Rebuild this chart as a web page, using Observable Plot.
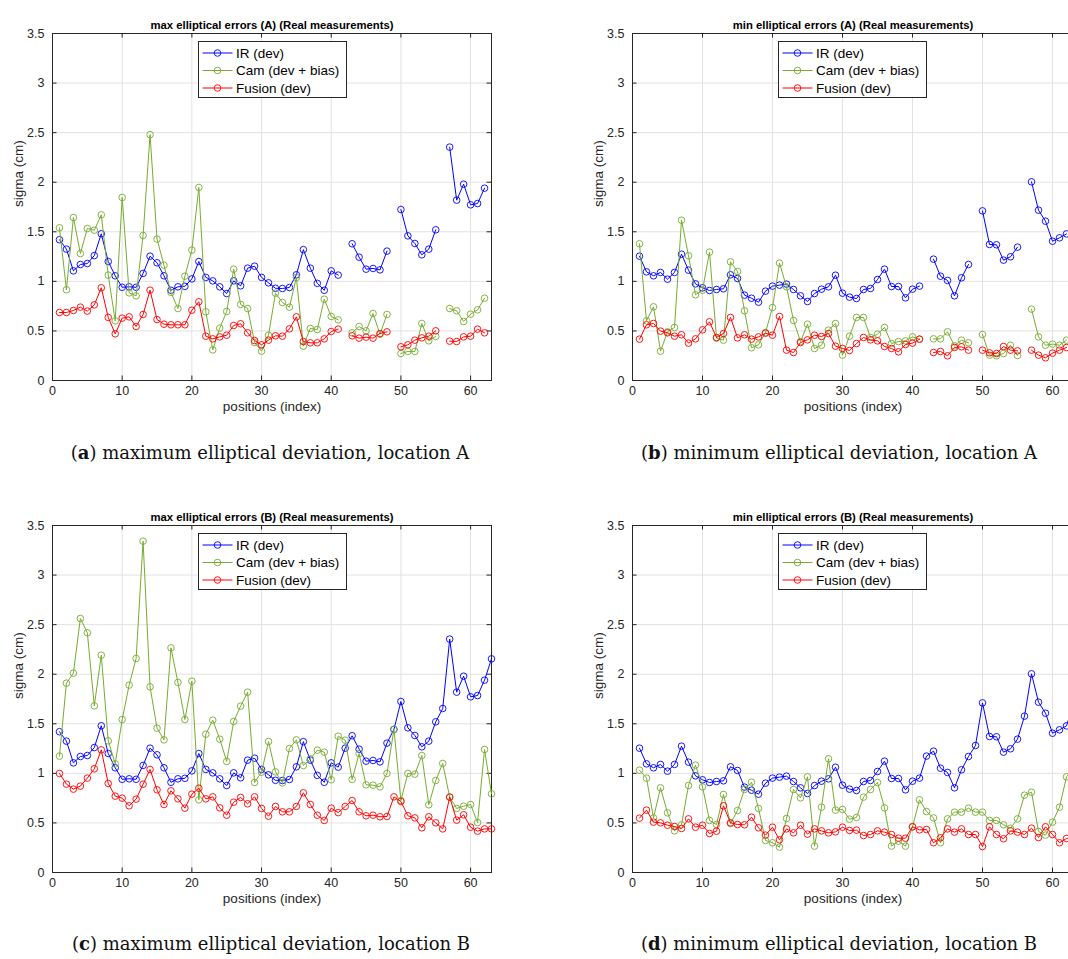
<!DOCTYPE html>
<html><head><meta charset="utf-8">
<script src="https://cdn.jsdelivr.net/npm/d3@7"></script>
<script src="https://cdn.jsdelivr.net/npm/@observablehq/plot@0.6"></script>
<style>
body{margin:0;background:#fff;}
#root{position:relative;width:1068px;height:959px;overflow:hidden;font-family:"Liberation Sans",Arial,sans-serif;background:#fff;}
.panel{position:absolute;}
.panel svg{max-width:none !important;}
.legend{position:absolute;}
.caption{position:absolute;font-family:"DejaVu Serif",serif;font-size:18px;white-space:nowrap;transform:translate(-50%,-50%);color:#111;}
</style></head><body><div id="root"></div>
<script>
// ---------- data ----------
const positions = d3.range(1, 64); // position index 1..63
const gapPositions = [42, 49, 56, 63]; // missing positions at location A
const xTicks = [0, 10, 20, 30, 40, 50, 60];
const yTicks = [0, 0.5, 1, 1.5, 2, 2.5, 3, 3.5];
const seriesNames = ["IR (dev)", "Cam (dev + bias)", "Fusion (dev)"];
const seriesColors = ["#0000ff", "#77ac30", "#ff0000"];

const irMax = [1.42,1.325,1.106,1.17,1.18,1.26,1.48,1.20,1.056,0.94,0.945,0.94,1.08,1.254,1.187,1.056,0.91,0.945,0.95,1.025,
  1.20,1.04,1.005,0.945,0.877,1.005,0.955,1.133,1.153,1.04,0.985,0.93,0.928,0.938,1.066,1.32,1.133,0.98,0.91,1.106,
  1.063,1.254,1.379,1.244,1.123,1.13,1.116,1.305,1.443,1.725,1.459,1.382,1.268,1.325,1.52,1.654,2.354,1.819,1.98,1.772,
  1.785,1.94,2.155];
const irMin = [1.254,1.096,1.056,1.09,1.022,1.09,1.274,1.113,0.975,0.935,0.908,0.918,0.925,1.066,1.029,0.861,0.83,0.79,0.901,0.952,
  0.962,0.972,0.918,0.854,0.797,0.877,0.921,0.945,1.062,0.881,0.841,0.827,0.918,0.928,1.019,1.123,0.948,0.948,0.834,0.921,
  0.952,1.174,1.224,1.052,1.009,0.854,1.036,1.17,1.281,1.711,1.372,1.369,1.214,1.248,1.345,1.577,2.004,1.718,1.607,1.405,
  1.439,1.479,1.70];

const camMaxA = [1.54,0.915,1.644,1.281,1.533,1.516,1.671,1.063,0.602,1.846,0.884,0.854,1.463,2.48,1.426,1.163,0.888,0.726,1.052,1.315,
  1.947,0.693,0.309,0.528,0.696,1.123,0.767,0.726,0.383,0.296,0.457,0.881,0.787,0.74,1.039,0.346,0.525,0.514,0.82,0.646,
  0.612,null,0.481,0.545,0.501,0.676,0.467,0.666,null,0.272,0.293,0.293,0.575,0.40,0.444,null,0.726,0.703,0.595,0.669,
  0.713,0.83,null];
const fusMaxA = [0.686,0.686,0.706,0.74,0.70,0.763,0.935,0.636,0.471,0.629,0.642,0.545,0.666,0.911,0.615,0.568,0.562,0.562,0.562,0.709,
  0.794,0.447,0.42,0.44,0.457,0.555,0.572,0.481,0.403,0.36,0.407,0.451,0.447,0.521,0.642,0.393,0.38,0.38,0.42,0.494,
  0.518,null,0.451,0.427,0.437,0.427,0.474,0.491,null,0.34,0.36,0.407,0.43,0.447,0.501,null,0.397,0.393,0.44,0.447,
  0.518,0.481,null];
const camMinA = [1.379,0.602,0.743,0.296,0.491,0.535,1.617,1.258,0.864,0.911,1.295,0.427,0.407,1.197,1.10,0.703,0.33,0.36,0.484,0.736,
  1.184,0.945,0.605,0.393,0.568,0.323,0.356,0.508,0.575,0.256,0.447,0.636,0.636,0.434,0.467,0.535,0.373,0.393,0.40,0.44,
  0.417,null,0.42,0.42,0.491,0.35,0.407,0.38,null,0.464,0.256,0.249,0.272,0.356,0.252,null,0.72,0.44,0.356,0.367,
  0.356,0.407,null];
const fusMinA = [0.417,0.562,0.575,0.498,0.481,0.447,0.461,0.377,0.42,0.511,0.592,0.434,0.474,0.636,0.43,0.461,0.417,0.44,0.477,0.457,
  0.646,0.306,0.282,0.383,0.41,0.457,0.444,0.474,0.346,0.323,0.303,0.373,0.434,0.41,0.40,0.343,0.323,0.289,0.363,0.377,
  0.417,null,0.282,0.293,0.249,0.333,0.34,0.306,null,0.306,0.279,0.272,0.343,0.306,0.299,null,0.306,0.256,0.229,0.276,
  0.306,0.333,null];
const camMaxB = [1.174,1.91,2.011,2.562,2.418,1.681,2.192,1.328,1.096,1.543,1.89,2.159,3.342,1.873,1.456,1.338,2.266,1.917,1.543,1.93,
  0.733,1.395,1.537,1.345,1.12,1.523,1.678,1.819,0.908,1.012,1.321,1.015,0.904,1.251,1.338,1.079,1.147,1.234,1.214,0.935,
  1.375,1.335,0.938,1.20,0.884,0.881,0.864,0.999,1.443,0.726,0.999,0.992,1.18,0.683,0.928,1.10,0.76,0.646,0.669,0.686,
  0.504,1.241,0.794];
const fusMaxB = [0.999,0.891,0.841,0.871,0.952,1.046,1.237,0.898,0.77,0.75,0.673,0.74,0.891,1.039,0.834,0.686,0.824,0.743,0.649,0.79,
  0.85,0.743,0.763,0.652,0.578,0.709,0.757,0.693,0.763,0.646,0.568,0.666,0.612,0.612,0.666,0.804,0.686,0.578,0.525,0.649,
  0.604,0.666,0.726,0.612,0.572,0.578,0.562,0.565,0.763,0.716,0.572,0.551,0.451,0.562,0.501,0.44,0.76,0.528,0.582,0.457,
  0.417,0.44,0.44];
const camMinB = [1.032,0.952,0.551,0.854,0.602,0.42,0.481,0.878,1.083,0.864,0.525,0.484,0.787,0.494,0.625,0.837,0.911,0.646,0.323,0.30,
  0.256,0.545,0.837,0.753,0.965,0.266,0.659,1.147,0.629,0.636,0.538,0.555,0.76,0.837,0.908,0.652,0.266,0.316,0.266,0.461,
  0.733,0.615,0.551,0.30,0.541,0.609,0.609,0.649,0.609,0.609,0.525,0.525,0.481,0.447,0.541,0.78,0.81,0.414,0.377,0.508,
  0.659,0.965,1.05];
const fusMinB = [0.548,0.629,0.508,0.501,0.477,0.464,0.444,0.541,0.457,0.477,0.393,0.417,0.673,0.501,0.484,0.481,0.558,0.451,0.377,0.457,
  0.33,0.44,0.40,0.477,0.387,0.44,0.42,0.40,0.41,0.457,0.424,0.427,0.373,0.383,0.42,0.407,0.383,0.346,0.346,0.461,
  0.43,0.434,0.30,0.35,0.44,0.407,0.44,0.383,0.383,0.262,0.461,0.383,0.34,0.42,0.407,0.383,0.447,0.353,0.461,0.383,
  0.30,0.343,0.35];

const withGaps = arr => arr.map((v, i) => gapPositions.includes(positions[i]) ? null : v);

const panels = [
  {key: "a", left: 0, top: 0, plotW: 439, title: "max elliptical errors (A) (Real measurements)",
   series: [withGaps(irMax), camMaxA, fusMaxA], caption: "maximum elliptical deviation, location A", capX: 270, capY: 452},
  {key: "b", left: 580, top: 0, plotW: 441, title: "min elliptical errors (A) (Real measurements)",
   series: [withGaps(irMin), camMinA, fusMinA], caption: "minimum elliptical deviation, location A", capX: 839, capY: 452},
  {key: "c", left: 0, top: 492, plotW: 439, title: "max elliptical errors (B) (Real measurements)",
   series: [irMax, camMaxB, fusMaxB], caption: "maximum elliptical deviation, location B", capX: 271, capY: 943},
  {key: "d", left: 580, top: 492, plotW: 441, title: "min elliptical errors (B) (Real measurements)",
   series: [irMin, camMinB, fusMinB], caption: "minimum elliptical deviation, location B", capX: 839, capY: 943}
];

// ---------- layout ----------
const mL = 52, mT = 33, mR = 30, mB = 45, plotH = 347;
const tickLen = 4.5;
const axisColor = "#262626";
const root = document.getElementById("root");

for (const p of panels) {
  const W = mL + p.plotW + mR, H = mT + plotH + mB;
  const marks = [
    Plot.gridX({ticks: xTicks, stroke: "#e2e2e2", strokeOpacity: 1}),
    Plot.gridY({ticks: yTicks, stroke: "#e2e2e2", strokeOpacity: 1}),
    Plot.frame({stroke: axisColor, strokeWidth: 1}),
    Plot.tickX(xTicks, {x: d => d, stroke: axisColor, insetTop: plotH - tickLen}),
    Plot.tickX(xTicks, {x: d => d, stroke: axisColor, insetBottom: plotH - tickLen}),
    Plot.tickY(yTicks, {y: d => d, stroke: axisColor, insetRight: p.plotW - tickLen}),
    Plot.tickY(yTicks, {y: d => d, stroke: axisColor, insetLeft: p.plotW - tickLen}),
    Plot.axisX({ticks: xTicks, tickSize: 0, tickPadding: 6, tickFormat: d => String(d), fill: axisColor}),
    Plot.axisY({ticks: yTicks, tickSize: 0, tickPadding: 8, tickFormat: d => String(d), fill: axisColor}),
    Plot.text([p.title], {text: d => d, frameAnchor: "top", dy: -13, fontWeight: "bold", fontSize: 11.3, fill: "#000"}),
    Plot.text(["positions (index)"], {text: d => d, frameAnchor: "bottom", dy: 30, fontSize: 13.5, fill: axisColor}),
    Plot.text(["sigma (cm)"], {text: d => d, frameAnchor: "left", dx: -34, rotate: -90, fontSize: 13.5, fill: axisColor})
  ];
  p.series.forEach((arr, s) => {
    const rows = positions.map((pos, i) => ({pos, v: arr[i]}));
    marks.push(Plot.line(rows, {x: "pos", y: "v", stroke: seriesColors[s], strokeWidth: 1}));
    marks.push(Plot.dot(rows, {x: "pos", y: "v", r: 3.3, stroke: seriesColors[s], fill: "none", strokeWidth: 0.9}));
  });
  const chart = Plot.plot({
    width: W, height: H, marginLeft: mL, marginRight: mR, marginTop: mT, marginBottom: mB,
    x: {domain: [0, 63], label: null},
    y: {domain: [0, 3.5], label: null},
    style: {fontFamily: "'Liberation Sans', Arial, sans-serif", fontSize: "12.5px", background: "transparent", overflow: "visible", maxWidth: "none"},
    marks
  });
  chart.style.maxWidth = "none";
  chart.style.width = W + "px";
  chart.style.height = H + "px";
  const wrap = document.createElement("div");
  wrap.className = "panel";
  wrap.style.left = p.left + "px";
  wrap.style.top = p.top + "px";
  wrap.style.width = W + "px";
  wrap.style.height = H + "px";
  wrap.appendChild(chart);
  root.appendChild(wrap);

  // legend box inside the axes (top, near center-left)
  const lg = d3.select(root).append("svg").attr("class", "legend")
    .style("left", (p.left + mL + 146) + "px").style("top", (p.top + mT + 8) + "px")
    .attr("width", 150).attr("height", 58);
  lg.append("rect").attr("x", 0.5).attr("y", 0.5).attr("width", 148).attr("height", 56)
    .attr("fill", "#fff").attr("stroke", axisColor).attr("stroke-width", 1);
  seriesNames.forEach((name, s) => {
    const yy = 12 + s * 17.5;
    lg.append("line").attr("x1", 4.5).attr("x2", 34.5).attr("y1", yy).attr("y2", yy)
      .attr("stroke", seriesColors[s]).attr("stroke-width", 1);
    lg.append("circle").attr("cx", 19.5).attr("cy", yy).attr("r", 3.3)
      .attr("fill", "none").attr("stroke", seriesColors[s]).attr("stroke-width", 0.9);
    lg.append("text").attr("x", 38).attr("y", yy).attr("dy", "0.35em")
      .attr("font-family", "'Liberation Sans', Arial, sans-serif").attr("font-size", 13.5)
      .attr("fill", "#000").text(name);
  });

  const cap = document.createElement("div");
  cap.className = "caption";
  cap.style.left = p.capX + "px";
  cap.style.top = p.capY + "px";
  cap.innerHTML = "(<b>" + p.key + "</b>) " + p.caption;
  root.appendChild(cap);
}
</script></body></html>
